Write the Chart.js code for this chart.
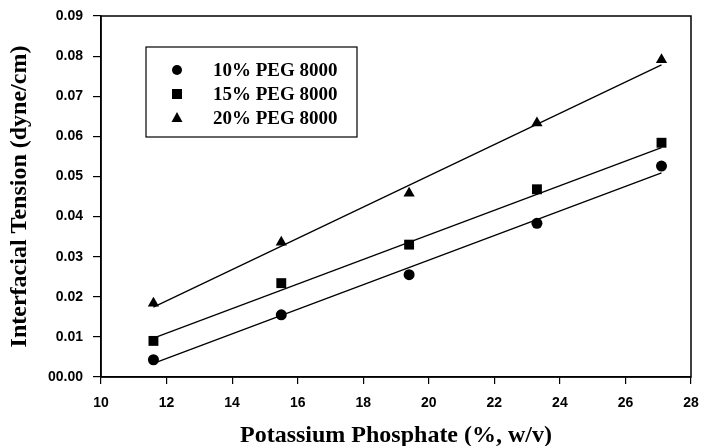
<!DOCTYPE html>
<html>
<head>
<meta charset="utf-8">
<script src="https://cdn.jsdelivr.net/npm/chart.js@4.4.1/dist/chart.umd.min.js"></script>
<style>
  html, body { margin: 0; padding: 0; background: #fff; }
  #wrap { width: 701px; height: 446px; }
</style>
</head>
<body>
<div id="wrap"><canvas id="tensionChart" width="701" height="446"></canvas></div>
<script>
// data
var phosphate = [11.6, 15.5, 19.4, 23.3, 27.1];
var peg10 = [0.0043, 0.0155, 0.0255, 0.0383, 0.0526];
var peg15 = [0.0090, 0.0234, 0.0330, 0.0468, 0.0584];
var peg20 = [0.0184, 0.0336, 0.0458, 0.0633, 0.0791];
// fitted lines (end points at first and last x)
var fitX = [11.6, 27.1];
var fit10 = [0.0034, 0.0509];
var fit15 = [0.0097, 0.0572];
var fit20 = [0.0174, 0.0778];
var seriesLabels = ['10% PEG 8000', '15% PEG 8000', '20% PEG 8000'];
var markers = ['circle', 'rect', 'triangle'];

function toPoints(xs, ys) {
    return xs.map(function (x, i) { return { x: x, y: ys[i] }; });
}

var serifFont = '"Liberation Serif", "Times New Roman", serif';
var sansFont = '"Liberation Sans", Arial, sans-serif';

// frame around plot + legend box inside plot
var framePlugin = {
    id: 'frame',
    afterDraw: function (chart) {
        var ctx = chart.ctx;
        var a = chart.chartArea;
        ctx.save();
        ctx.strokeStyle = '#000';
        ctx.lineWidth = 1.5;
        ctx.strokeRect(a.left, a.top, a.right - a.left, a.bottom - a.top);

        // legend
        var bx = a.left + 45, by = a.top + 31, bw = 211, bh = 90;
        ctx.lineWidth = 1.2;
        ctx.strokeRect(bx, by, bw, bh);
        ctx.fillStyle = '#000';
        ctx.font = 'bold 19px ' + serifFont;
        ctx.textBaseline = 'middle';
        ctx.textAlign = 'left';
        for (var i = 0; i < seriesLabels.length; i++) {
            var cy = by + 23 + i * 24;
            var cx = bx + 31;
            ctx.beginPath();
            if (markers[i] === 'circle') {
                ctx.arc(cx, cy, 5, 0, Math.PI * 2);
            } else if (markers[i] === 'rect') {
                ctx.rect(cx - 5, cy - 5, 10, 10);
            } else {
                ctx.moveTo(cx, cy - 6);
                ctx.lineTo(cx + 5.5, cy + 4);
                ctx.lineTo(cx - 5.5, cy + 4);
                ctx.closePath();
            }
            ctx.fill();
            ctx.fillText(seriesLabels[i], bx + 67, cy + 1);
        }
        ctx.restore();
    }
};

var ctx = document.getElementById('tensionChart').getContext('2d');
var tensionChart = new Chart(ctx, {
    type: 'scatter',
    data: {
        datasets: [
            { type: 'line', data: toPoints(fitX, fit10), borderColor: '#000', borderWidth: 1.3, pointRadius: 0, fill: false },
            { type: 'line', data: toPoints(fitX, fit15), borderColor: '#000', borderWidth: 1.3, pointRadius: 0, fill: false },
            { type: 'line', data: toPoints(fitX, fit20), borderColor: '#000', borderWidth: 1.3, pointRadius: 0, fill: false },
            { label: seriesLabels[0], data: toPoints(phosphate, peg10), pointStyle: 'circle', pointRadius: 5.5, backgroundColor: '#000', borderColor: '#000', borderWidth: 0 },
            { label: seriesLabels[1], data: toPoints(phosphate, peg15), pointStyle: 'rect', pointRadius: 7, backgroundColor: '#000', borderColor: '#000', borderWidth: 0 },
            { label: seriesLabels[2], data: toPoints(phosphate, peg20), pointStyle: 'triangle', pointRadius: 6.5, backgroundColor: '#000', borderColor: '#000', borderWidth: 0 }
        ]
    },
    options: {
        responsive: false,
        animation: false,
        layout: { padding: { top: 16, right: 10, left: 0, bottom: 0 } },
        plugins: {
            legend: { display: false },
            tooltip: { enabled: false }
        },
        scales: {
            x: {
                type: 'linear',
                min: 10,
                max: 28,
                afterFit: function (scale) {
                    scale.height = 69;
                    scale.paddingLeft = 0;
                    scale.paddingRight = 0;
                },
                ticks: {
                    stepSize: 2,
                    color: '#000',
                    padding: 11,
                    maxRotation: 0,
                    font: { family: sansFont, size: 14, weight: 'bold' }
                },
                grid: { display: true, drawOnChartArea: false, drawTicks: true, tickLength: 7, color: '#000', lineWidth: 1.2 },
                border: { display: true, color: '#000', width: 1.5 },
                title: {
                    display: true,
                    text: 'Potassium Phosphate (%, w/v)',
                    color: '#000',
                    padding: { top: 0, bottom: -4 },
                    font: { family: serifFont, size: 24, weight: 'bold' }
                }
            },
            y: {
                type: 'linear',
                min: 0,
                max: 0.09,
                afterFit: function (scale) {
                    scale.width = 101;
                    scale.paddingTop = 0;
                    scale.paddingBottom = 0;
                },
                ticks: {
                    stepSize: 0.01,
                    color: '#000',
                    padding: 10,
                    font: { family: sansFont, size: 14, weight: 'bold' },
                    callback: function (v) { return v === 0 ? '00.00' : v.toFixed(2); }
                },
                grid: { display: true, drawOnChartArea: false, drawTicks: true, tickLength: 8, color: '#000', lineWidth: 1.2 },
                border: { display: true, color: '#000', width: 1.5 },
                title: {
                    display: true,
                    text: 'Interfacial Tension (dyne/cm)',
                    color: '#000',
                    padding: { top: 5, bottom: 0 },
                    font: { family: serifFont, size: 24, weight: 'bold' }
                }
            }
        }
    },
    plugins: [framePlugin]
});
</script>
</body>
</html>
